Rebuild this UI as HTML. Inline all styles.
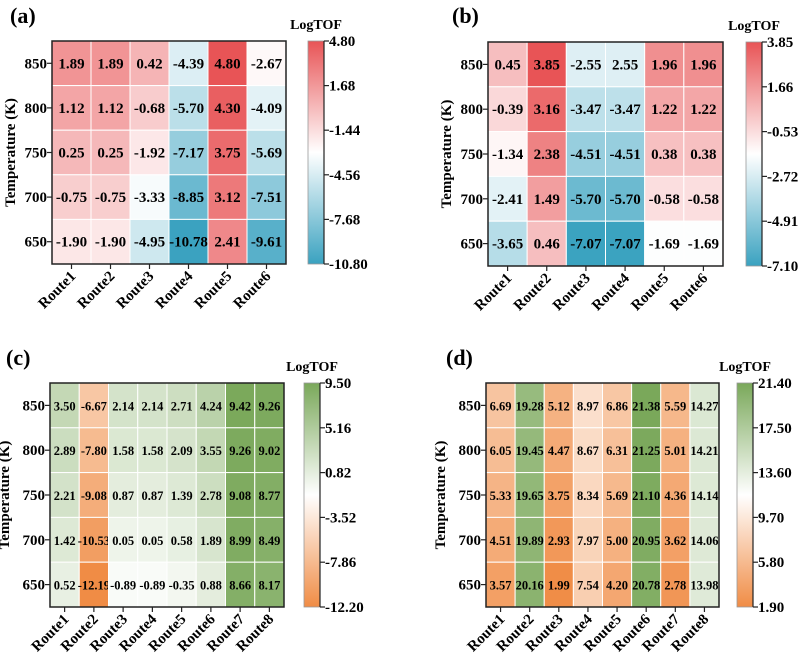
<!DOCTYPE html>
<html><head><meta charset="utf-8"><style>
body{margin:0;background:#fff}
svg, svg text{font-family:"Liberation Serif","DejaVu Serif",serif;font-weight:bold}
</style></head><body>
<svg id="s" width="800" height="656" viewBox="0 0 800 656" xmlns="http://www.w3.org/2000/svg" font-family="Liberation Serif, serif" font-weight="bold"></svg>
<script>
const temps=[850,800,750,700,650];
const routesA=["Route1","Route2","Route3","Route4","Route5","Route6"];
const routesC=["Route1","Route2","Route3","Route4","Route5","Route6","Route7","Route8"];
const valsA=[[1.89,1.89,0.42,-4.39,4.80,-2.67],[1.12,1.12,-0.68,-5.70,4.30,-4.09],[0.25,0.25,-1.92,-7.17,3.75,-5.69],[-0.75,-0.75,-3.33,-8.85,3.12,-7.51],[-1.90,-1.90,-4.95,-10.78,2.41,-9.61]];
const labelsA=valsA.map(r=>r.map(v=>v.toFixed(2)));
const valsB=[[0.45,3.85,-2.55,-2.55,1.96,1.96],[-0.39,3.16,-3.47,-3.47,1.22,1.22],[-1.34,2.38,-4.51,-4.51,0.38,0.38],[-2.41,1.49,-5.70,-5.70,-0.58,-0.58],[-3.65,0.46,-7.07,-7.07,-1.69,-1.69]];
const labelsB=[["0.45","3.85","-2.55","2.55","1.96","1.96"],["-0.39","3.16","-3.47","-3.47","1.22","1.22"],["-1.34","2.38","-4.51","-4.51","0.38","0.38"],["-2.41","1.49","-5.70","-5.70","-0.58","-0.58"],["-3.65","0.46","-7.07","-7.07","-1.69","-1.69"]];
const valsC=[[3.50,-6.67,2.14,2.14,2.71,4.24,9.42,9.26],[2.89,-7.80,1.58,1.58,2.09,3.55,9.26,9.02],[2.21,-9.08,0.87,0.87,1.39,2.78,9.08,8.77],[1.42,-10.53,0.05,0.05,0.58,1.89,8.99,8.49],[0.52,-12.19,-0.89,-0.89,-0.35,0.88,8.66,8.17]];
const labelsC=valsC.map(r=>r.map(v=>v.toFixed(2)));
const valsD=[[6.69,19.28,5.12,8.97,6.86,21.38,5.59,14.27],[6.05,19.45,4.47,8.67,6.31,21.25,5.01,14.21],[5.33,19.65,3.75,8.34,5.69,21.10,4.36,14.14],[4.51,19.89,2.93,7.97,5.00,20.95,3.62,14.06],[3.57,20.16,1.99,7.54,4.20,20.78,2.78,13.98]];
const labelsD=valsD.map(r=>r.map(v=>v.toFixed(2)));
const cbA=["4.80","1.68","-1.44","-4.56","-7.68","-10.80"];
const cbB=["3.85","1.66","-0.53","-2.72","-4.91","-7.10"];
const cbC=["9.50","5.16","0.82","-3.52","-7.86","-12.20"];
const cbD=["21.40","17.50","13.60","9.70","5.80","1.90"];

const NS="http://www.w3.org/2000/svg";
const S=document.getElementById('s');
const FF='"Liberation Serif", "DejaVu Serif", serif';
function mk(tag,at,parent,txt){const e=document.createElementNS(NS,tag);for(const k in at)e.setAttribute(k,at[k]);if(tag==='text'){e.setAttribute('font-family',FF);e.setAttribute('font-weight','bold');e.style.fontFamily=FF;}if(txt!==undefined)e.textContent=txt;(parent||S).appendChild(e);return e;}
function lerp(a,b,t){return a.map((v,i)=>Math.round(v+(b[i]-v)*t));}
function colorFn(min,max,lo,hi){const mid=[255,255,255];return v=>{let t=(v-min)/(max-min);t=Math.max(0,Math.min(1,t));const c=t<0.5?lerp(lo,mid,t/0.5):lerp(mid,hi,(t-0.5)/0.5);return `rgb(${c[0]},${c[1]},${c[2]})`;};}
const RED=[232,84,86],BLUE=[58,162,192],GREEN=[122,168,90],ORANGE=[240,140,69];

function panel(o){
  const g=mk('g',{});
  
  
  const nC=o.routes.length,nR=o.temps.length;
  const cw=(o.x1-o.x0)/nC,ch=(o.y1-o.y0)/nR;
  const xs=i=>o.x0+i*cw, ys=j=>o.y0+j*ch;
  const min=parseFloat(o.cb[o.cb.length-1]),max=parseFloat(o.cb[0]);
  const col=colorFn(min,max,o.lo,o.hi);
  const pl=mk('text',{x:o.px,y:o.py,'font-size':22},g,o.letter);
  
  for(let j=0;j<nR;j++)for(let i=0;i<nC;i++){
    const v=o.vals[j][i];
    const r=mk('rect',{x:xs(i),y:ys(j),width:cw,height:ch,fill:col(v),stroke:'#fff','stroke-width':1},g);
    
    const t=mk('text',{x:xs(i)+cw/2,y:ys(j)+ch/2+5,'text-anchor':'middle','font-size':o.fs},g,o.labels[j][i]);
    
  }
  mk('rect',{x:o.x0,y:o.y0,width:o.x1-o.x0,height:o.y1-o.y0,fill:'none',stroke:'#222','stroke-width':1.5},g);
  for(let j=0;j<nR;j++){
    const y=ys(j)+ch/2;
    mk('line',{x1:o.x0-5,x2:o.x0,y1:y,y2:y,stroke:'#222','stroke-width':1.2},g);
    const t=mk('text',{x:o.x0-5,y:y+5,'text-anchor':'end','font-size':15},g,o.temps[j]);
    
  }
  for(let i=0;i<nC;i++){
    const x=xs(i)+cw/2;
    mk('line',{x1:x,x2:x,y1:o.y1,y2:o.y1+5,stroke:'#222','stroke-width':1.2},g);
    const t=mk('text',{x:x+5,y:o.y1+13,'text-anchor':'end','font-size':15,transform:`rotate(-45 ${x+5} ${o.y1+13})`},g,o.routes[i]);
    
  }
  const yt=mk('text',{x:o.ytx,y:(o.y0+o.y1)/2,'text-anchor':'middle','font-size':15,transform:`rotate(-90 ${o.ytx} ${(o.y0+o.y1)/2})`},g,'Temperature (K)');
  
  const gid='grad'+o.letter.replace(/\W/g,'');
  const defs=mk('defs',{},g);
  const lg=mk('linearGradient',{id:gid,x1:0,y1:1,x2:0,y2:0},defs);
  mk('stop',{offset:0,'stop-color':`rgb(${o.lo})`},lg);
  mk('stop',{offset:0.5,'stop-color':'#fff'},lg);
  mk('stop',{offset:1,'stop-color':`rgb(${o.hi})`},lg);
  const cb=mk('rect',{x:o.cbx,y:o.y0,width:16,height:o.y1-o.y0,fill:`url(#${gid})`,stroke:'#999','stroke-width':0.8},g);
  
  mk('line',{x1:o.cbx+16,x2:o.cbx+16,y1:o.y0,y2:o.y1,stroke:'#222','stroke-width':1.2},g);
  o.cb.forEach((lab,k)=>{
    const y=o.y0+(o.y1-o.y0)*(max-parseFloat(lab))/(max-min);
    mk('line',{x1:o.cbx+16,x2:o.cbx+21,y1:y,y2:y,stroke:'#222','stroke-width':1.2},g);
    const t=mk('text',{x:o.cbx+21,y:y+5,'font-size':15},g,lab);
    
  });
  const ct=mk('text',{x:o.cbx+8,y:o.y0-12,'text-anchor':'middle','font-size':14},g,'LogTOF');
  
}
panel({name:'heatmap-a',letter:'(a)',px:10,py:23,routes:routesA,temps,vals:valsA,labels:labelsA,cb:cbA,x0:52,x1:286,y0:41,y1:264,cbx:308,ytx:15,fs:15,lo:BLUE,hi:RED});
panel({name:'heatmap-b',letter:'(b)',px:452,py:23,routes:routesA,temps,vals:valsB,labels:labelsB,cb:cbB,x0:488,x1:723,y0:42,y1:266,cbx:746,ytx:451,fs:15,lo:BLUE,hi:RED});
panel({name:'heatmap-c',letter:'(c)',px:6,py:365,routes:routesC,temps,vals:valsC,labels:labelsC,cb:cbC,x0:50,x1:284,y0:383,y1:607,cbx:304,ytx:9,fs:12.5,lo:ORANGE,hi:GREEN});
panel({name:'heatmap-d',letter:'(d)',px:446,py:365,routes:routesC,temps,vals:valsD,labels:labelsD,cb:cbD,x0:486,x1:719,y0:383,y1:607,cbx:737,ytx:445,fs:12.5,lo:ORANGE,hi:GREEN});
</script>
</body></html>
